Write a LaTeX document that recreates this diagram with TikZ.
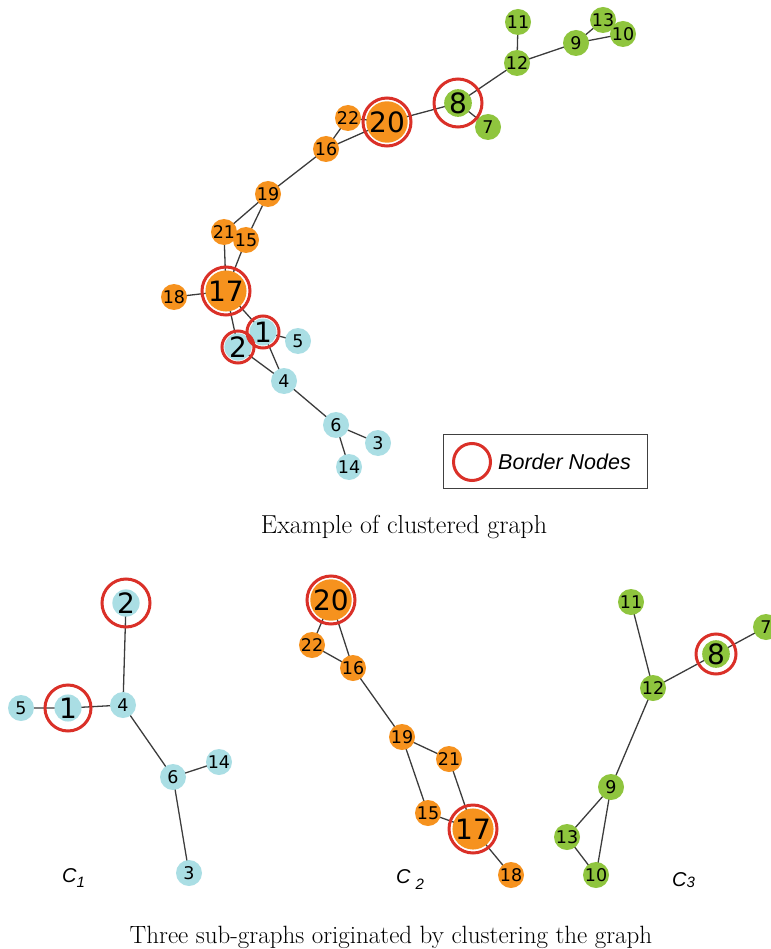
\documentclass[tikz,border=0pt]{standalone}
\usepackage{fontspec}
\newfontfamily\dvfont{DejaVu Sans}
\newfontfamily\libsans{Liberation Sans}
\usetikzlibrary{backgrounds}
\definecolor{orng}{RGB}{246,146,30}
\definecolor{blu}{RGB}{170,222,228}
\definecolor{grn}{RGB}{143,197,62}
\definecolor{ringred}{RGB}{218,48,40}
\definecolor{edgec}{RGB}{60,60,60}
\tikzset{
  gnode/.style={circle, inner sep=0pt, minimum size=26pt, font=\dvfont\fontsize{17.5}{17.5}\selectfont},
  bignode/.style={gnode, font=\dvfont\fontsize{28}{28}\selectfont},
  onode/.style={gnode, fill=orng},
  bnode/.style={gnode, fill=blu},
  gnnode/.style={gnode, fill=grn},
  obig/.style={bignode, fill=orng},
  bbig/.style={bignode, fill=blu},
  gbig/.style={bignode, fill=grn},
  ringst/.style={draw=ringred, line width=3pt},
  edgest/.style={draw=edgec, line width=1.3pt},
  captext/.style={font=\fontsize{25}{28}\selectfont, anchor=base},
  clab/.style={font=\libsans\itshape\fontsize{20}{20}\selectfont, anchor=base west, inner sep=0pt}
}
\begin{document}
\begin{tikzpicture}[x=1pt,y=-1pt]
\useasboundingbox (0,0) rectangle (770,949);
% ---------- top graph ----------
\node[obig] (t20) at (387,122) {20};
\node[onode] (t22) at (348,118) {22};
\node[onode] (t16) at (326,149) {16};
\node[onode] (t19) at (268,194) {19};
\node[onode] (t21) at (224,232) {21};
\node[onode] (t15) at (246,240) {15};
\node[obig] (t17) at (226,291) {17};
\node[onode] (t18) at (174,297) {18};
\node[bbig] (t1) at (263,332) {1};
\node[bbig] (t2) at (238,347) {2};
\node[bnode] (t5) at (298,341) {5};
\node[bnode] (t4) at (284,381) {4};
\node[bnode] (t6) at (336,425) {6};
\node[bnode] (t3) at (378,443) {3};
\node[bnode] (t14) at (349,467) {14};
\node[gbig] (t8) at (458,103) {8};
\node[gnnode] (t7) at (488,127) {7};
\node[gnnode] (t12) at (517,63) {12};
\node[gnnode] (t11) at (518,22) {11};
\node[gnnode] (t9) at (576,43) {9};
\node[gnnode] (t13) at (603,20) {13};
\node[gnnode] (t10) at (623,34) {10};
\begin{scope}[on background layer]
\draw[edgest] (t8.center) -- (t12.center) (t8.center) -- (t7.center) (t8.center) -- (t20.center)
  (t12.center) -- (t11.center) (t12.center) -- (t9.center) (t9.center) -- (t13.center)
  (t9.center) -- (t10.center) (t13.center) -- (t10.center)
  (t20.center) -- (t22.center) (t20.center) -- (t16.center) (t22.center) -- (t16.center)
  (t16.center) -- (t19.center) (t19.center) -- (t21.center) (t19.center) -- (t15.center)
  (t21.center) -- (t17.center) (t15.center) -- (t17.center) (t17.center) -- (t18.center)
  (t17.center) -- (t1.center) (t17.center) -- (t2.center) (t1.center) -- (t5.center)
  (t1.center) -- (t4.center) (t2.center) -- (t4.center) (t4.center) -- (t6.center)
  (t6.center) -- (t3.center) (t6.center) -- (t14.center);
\end{scope}
\draw[ringst] (t20.center) circle[radius=24];
\draw[ringst] (t8.center) circle[radius=24];
\draw[ringst] (t17.center) circle[radius=24];
\draw[ringst] (t1.center) circle[radius=16];
\draw[ringst] (t2.center) circle[radius=16];
% legend
\node[draw=black!75, line width=1pt, minimum width=204pt, minimum height=54pt, inner sep=0pt] (legend) at (545,461) {};
\coordinate (legring) at (472,462);
\draw[ringst] (legring) circle[radius=18.5];
\node[anchor=west, inner sep=0pt, font=\libsans\itshape\fontsize{21.5}{22}\selectfont] (legtext) at (498,462) {Border Nodes};
\node[captext, font=\fontsize{26}{28}\selectfont] (cap1) at (404,533) {Example of clustered graph};
% ---------- bottom: C1 ----------
\node[bbig] (a2) at (126,603) {2};
\node[bnode] (a4) at (123,705) {4};
\node[bbig] (a1) at (68,708) {1};
\node[bnode] (a5) at (21,708) {5};
\node[bnode] (a6) at (173,777) {6};
\node[bnode] (a14) at (219,762) {14};
\node[bnode] (a3) at (189,873) {3};
% C2
\node[obig] (b20) at (331,600) {20};
\node[onode] (b22) at (312,645) {22};
\node[onode] (b16) at (353,668) {16};
\node[onode] (b19) at (402,737) {19};
\node[onode] (b21) at (449,759) {21};
\node[onode] (b15) at (428,813) {15};
\node[obig] (b17) at (473,829) {17};
\node[onode] (b18) at (511,875) {18};
% C3
\node[gnnode] (c11) at (631,602) {11};
\node[gnnode] (c12) at (653,688) {12};
\node[gbig] (c8) at (716,654) {8};
\node[gnnode] (c7) at (766,627) {7};
\node[gnnode] (c9) at (611,787) {9};
\node[gnnode] (c13) at (567,837) {13};
\node[gnnode] (c10) at (596,875) {10};
\begin{scope}[on background layer]
\draw[edgest] (a2.center) -- (a4.center) (a1.center) -- (a4.center) (a5.center) -- (a1.center)
  (a4.center) -- (a6.center) (a6.center) -- (a14.center) (a6.center) -- (a3.center)
  (b20.center) -- (b22.center) (b20.center) -- (b16.center) (b22.center) -- (b16.center)
  (b16.center) -- (b19.center) (b19.center) -- (b21.center) (b19.center) -- (b15.center)
  (b21.center) -- (b17.center) (b15.center) -- (b17.center) (b17.center) -- (b18.center)
  (c11.center) -- (c12.center) (c12.center) -- (c8.center) (c8.center) -- (c7.center)
  (c12.center) -- (c9.center) (c9.center) -- (c13.center) (c9.center) -- (c10.center)
  (c13.center) -- (c10.center);
\end{scope}
\draw[ringst] (a2.center) circle[radius=24];
\draw[ringst] (a1.center) circle[radius=23];
\draw[ringst] (b20.center) circle[radius=24];
\draw[ringst] (b17.center) circle[radius=24];
\draw[ringst] (c8.center) circle[radius=20];
% labels
\node[clab] (lc1) at (62,882) {C\raisebox{-5pt}{\fontsize{15}{15}\selectfont 1}};
\node[clab] (lc2) at (396,883) {C\hspace{5pt}\raisebox{-6pt}{\fontsize{15}{15}\selectfont 2}};
\node[clab] (lc3) at (672,886) {C\raisebox{-1pt}{\fontsize{15}{15}\selectfont 3}};
\node[captext] (cap2) at (391,943) {Three sub-graphs originated by clustering the graph};
\end{tikzpicture}
\end{document}
